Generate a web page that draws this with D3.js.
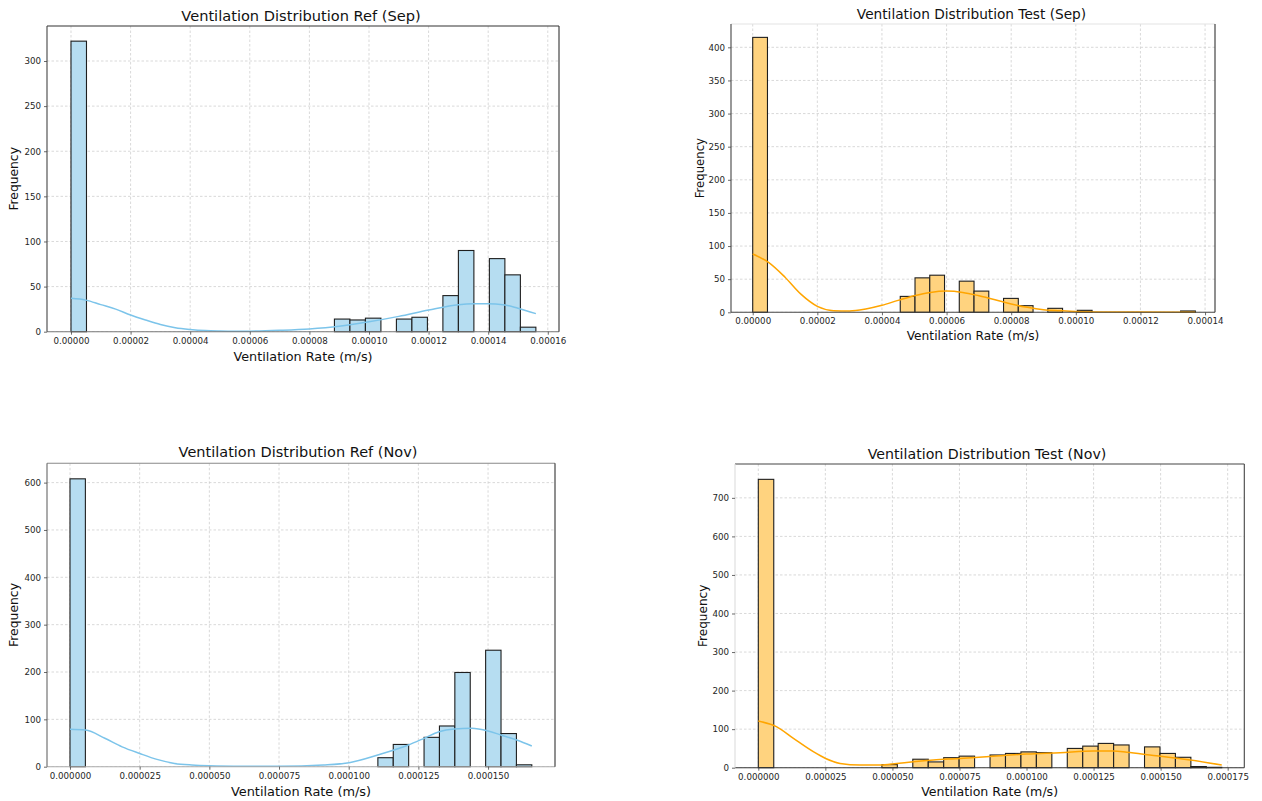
<!DOCTYPE html>
<html>
<head>
<meta charset="utf-8">
<script src="https://cdn.jsdelivr.net/npm/d3@7"></script>
<style>
  body { margin: 0; background: #fff; }
  svg { display: block; }
  text { font-family: "DejaVu Sans", sans-serif; }
</style>
</head>
<body>
<svg id="chart" width="1262" height="801"></svg>
<script>
// histogram counts, 30 equal bins from 0 to the largest value of each series
const binCount = 30;

const refSepMax = 0.000156;
const refSepCounts = [322, 0, 0, 0, 0, 0, 0, 0, 0, 0, 0, 0, 0, 0, 0, 0, 0, 14, 13, 15, 0, 14, 16, 0, 40, 90, 0, 81, 63, 5];
const refSepKde = [[0, 37], [0.000005, 35], [0.00001, 30], [0.000015, 25], [0.00002, 18.5], [0.000025, 13], [0.00003, 8],
  [0.000035, 4.5], [0.00004, 2.5], [0.000045, 1.2], [0.00005, 0.7], [0.000055, 0.5], [0.00006, 0.6], [0.00007, 1.5],
  [0.00008, 3], [0.00009, 6], [0.0001, 11], [0.00011, 17], [0.00012, 24], [0.00013, 30], [0.000135, 31],
  [0.00014, 31], [0.000145, 30], [0.00015, 26], [0.000156, 20]];

const testSepMax = 0.000137;
const testSepCounts = [415, 0, 0, 0, 0, 0, 0, 0, 0, 0, 24, 52, 56, 0, 47, 32, 0, 21, 10, 0, 6, 0, 3, 0, 0, 0, 0, 0, 0, 2];
const testSepKde = [[0, 88], [0.000005, 75], [0.00001, 53], [0.000015, 27], [0.00002, 9], [0.000025, 2.5], [0.00003, 2],
  [0.000035, 5], [0.00004, 10.5], [0.000045, 18], [0.00005, 25], [0.000055, 30], [0.00006, 32], [0.000065, 30],
  [0.00007, 25], [0.000075, 19], [0.00008, 12.5], [0.000085, 7.5], [0.00009, 4], [0.000095, 2.5], [0.0001, 1.3],
  [0.00011, 0.5], [0.00012, 0.3], [0.000137, 0.1]];

const refNovMax = 0.0001657;
const refNovCounts = [608, 0, 0, 0, 0, 0, 0, 0, 0, 0, 0, 0, 0, 0, 0, 0, 0, 0, 0, 0, 19, 47, 0, 62, 86, 199, 0, 246, 70, 4];
const refNovKde = [[0, 79], [0.0000056, 77.5], [0.0000125, 60], [0.0000187, 42], [0.000025, 28], [0.0000312, 15.5],
  [0.0000375, 7], [0.0000437, 3.6], [0.00005, 2], [0.0000625, 1], [0.000075, 0.8], [0.0000909, 3.6], [0.0001002, 8.5],
  [0.0001104, 24.7], [0.0001214, 45.8], [0.000127, 59.9], [0.0001324, 74], [0.0001379, 79.6], [0.0001441, 81],
  [0.00015, 75.4], [0.0001546, 67], [0.0001603, 56.4], [0.0001657, 43.7]];

const testNovMax = 0.0001728;
const testNovCounts = [748, 0, 0, 0, 0, 0, 0, 0, 8, 0, 22, 15, 26, 30, 0, 33, 37, 41, 39, 0, 50, 56, 63, 59, 0, 54, 37, 27, 3, 1];
const testNovKde = [[0, 121], [0.0000069, 106], [0.0000131, 76], [0.0000205, 41.5], [0.0000251, 24], [0.0000305, 11],
  [0.0000379, 7], [0.0000454, 7], [0.0000516, 11], [0.0000578, 15.5], [0.0000653, 20], [0.0000752, 24],
  [0.0000876, 30], [0.0001, 35.5], [0.0001125, 39], [0.0001249, 43], [0.0001324, 43], [0.0001374, 40],
  [0.000146, 33], [0.000161, 20], [0.0001728, 7]];

const sepTicks = [0, 0.00002, 0.00004, 0.00006, 0.00008, 0.0001, 0.00012, 0.00014, 0.00016];
const novTicks = [0, 0.000025, 0.00005, 0.000075, 0.0001, 0.000125, 0.00015, 0.000175];
const refSepYTicks = [0, 50, 100, 150, 200, 250, 300];
const testSepYTicks = [0, 50, 100, 150, 200, 250, 300, 350, 400];
const refNovYTicks = [0, 100, 200, 300, 400, 500, 600];
const testNovYTicks = [0, 100, 200, 300, 400, 500, 600, 700];

const blueFill = "#b6ddf1", blueLine = "#7cc4ea";
const orangeFill = "#ffd37f", orangeLine = "#ffa500";

const panels = [
  {title: "Ventilation Distribution Ref (Sep)", counts: refSepCounts, maxVal: refSepMax, kde: refSepKde,
   xTicks: sepTicks, fmt: ".5f", yTicks: refSepYTicks, fill: blueFill, line: blueLine,
   box: {l: 47, r: 559, t: 26, b: 331.7}, xDom: [-0.00000805, 0.00016376], yMax: 338.8,
   titleSize: 14.6, titleX: 301, titleY: 21, labelSize: 12.8, xLabelY: 361, yLabelX: 18,
   spines: {top: "#333", left: "#444", right: "#333", bottom: "#777"}},
  {title: "Ventilation Distribution Test (Sep)", counts: testSepCounts, maxVal: testSepMax, kde: testSepKde,
   xTicks: sepTicks.slice(0, 8), fmt: ".5f", yTicks: testSepYTicks, fill: orangeFill, line: orangeLine,
   box: {l: 731, r: 1215, t: 24, b: 312.3}, xDom: [-0.00000672, 0.00014308], yMax: 435.2,
   titleSize: 13.7, titleX: 971.5, titleY: 19, labelSize: 12.2, xLabelY: 340, yLabelX: 704,
   spines: {top: "#e4e4e4", left: "#444", right: "#333", bottom: "#444"}},
  {title: "Ventilation Distribution Ref (Nov)", counts: refNovCounts, maxVal: refNovMax, kde: refNovKde,
   xTicks: novTicks.slice(0, 7), fmt: ".6f", yTicks: refNovYTicks, fill: blueFill, line: blueLine,
   box: {l: 47, r: 555, t: 463.3, b: 766.7}, xDom: [-0.00000825, 0.00017402], yMax: 640.8,
   titleSize: 14.5, titleX: 298, titleY: 457, labelSize: 12.9, xLabelY: 796, yLabelX: 18,
   spines: {top: "#888", left: "#666", right: "#333", bottom: "#aaa"}},
  {title: "Ventilation Distribution Test (Nov)", counts: testNovCounts, maxVal: testNovMax, kde: testNovKde,
   xTicks: novTicks, fmt: ".6f", yTicks: testNovYTicks, fill: orangeFill, line: orangeLine,
   box: {l: 735, r: 1244.3, t: 464, b: 767.7}, xDom: [-0.00000869, 0.0001812], yMax: 787.8,
   titleSize: 14.2, titleX: 987, titleY: 459, labelSize: 12.6, xLabelY: 796, yLabelX: 707,
   spines: {top: "#444", left: "#dcdcdc", right: "#444", bottom: "#333"}}
];

const svg = d3.select("#chart");
svg.append("rect").attr("width", 1262).attr("height", 801).attr("fill", "#fff");

panels.forEach((p, pi) => {
  const b = p.box;
  const x = d3.scaleLinear().domain(p.xDom).range([b.l, b.r]);
  const y = d3.scaleLinear().domain([0, p.yMax]).range([b.b, b.t]);
  const g = svg.append("g").attr("class", "panel");

  const clipId = "clip" + pi;
  g.append("clipPath").attr("id", clipId)
    .append("rect").attr("x", b.l).attr("y", b.t).attr("width", b.r - b.l).attr("height", b.b - b.t);

  // dashed grid
  const grid = g.append("g").attr("clip-path", "url(#" + clipId + ")")
    .attr("stroke", "#cfcfcf").attr("stroke-width", 0.8).attr("stroke-dasharray", "2.5,2");
  grid.selectAll("line.vx").data(p.xTicks).enter().append("line")
    .attr("x1", d => x(d)).attr("x2", d => x(d)).attr("y1", b.t).attr("y2", b.b);
  grid.selectAll("line.hy").data(p.yTicks).enter().append("line")
    .attr("x1", b.l).attr("x2", b.r).attr("y1", d => y(d)).attr("y2", d => y(d));

  // histogram bars
  const w = p.maxVal / binCount;
  const bins = p.counts.map((c, i) => ({x0: i * w, x1: (i + 1) * w, c: c})).filter(d => d.c > 0);
  g.append("g").selectAll("rect").data(bins).enter().append("rect")
    .attr("x", d => x(d.x0))
    .attr("width", d => x(d.x1) - x(d.x0))
    .attr("y", d => y(d.c))
    .attr("height", d => y(0) - y(d.c))
    .attr("fill", p.fill)
    .attr("stroke", "#1e1e1e")
    .attr("stroke-width", 1.1);

  // kde curve
  const line = d3.line().x(d => x(d[0])).y(d => y(d[1])).curve(d3.curveMonotoneX);
  g.append("path").datum(p.kde)
    .attr("d", line)
    .attr("fill", "none")
    .attr("stroke", p.line)
    .attr("stroke-width", 1.5);

  // spines
  const sp = g.append("g").attr("stroke-width", 1.1);
  sp.append("line").attr("x1", b.l).attr("x2", b.r).attr("y1", b.t).attr("y2", b.t).attr("stroke", p.spines.top);
  sp.append("line").attr("x1", b.l).attr("x2", b.r).attr("y1", b.b).attr("y2", b.b).attr("stroke", p.spines.bottom);
  sp.append("line").attr("x1", b.l).attr("x2", b.l).attr("y1", b.t).attr("y2", b.b).attr("stroke", p.spines.left);
  sp.append("line").attr("x1", b.r).attr("x2", b.r).attr("y1", b.t).attr("y2", b.b).attr("stroke", p.spines.right);

  // axes
  const xAxis = d3.axisBottom(x).tickValues(p.xTicks).tickFormat(d3.format(p.fmt)).tickSize(3).tickPadding(3);
  const yAxis = d3.axisLeft(y).tickValues(p.yTicks).tickFormat(d3.format("d")).tickSize(3).tickPadding(3);
  const gx = g.append("g").attr("transform", "translate(0," + b.b + ")").call(xAxis);
  const gy = g.append("g").attr("transform", "translate(" + b.l + ",0)").call(yAxis);
  [gx, gy].forEach(ax => {
    ax.select(".domain").remove();
    ax.selectAll(".tick line").attr("stroke", "#444").attr("stroke-width", 0.8);
    ax.selectAll(".tick text").attr("fill", "#262626").style("font-size", "8.7px")
      .style("font-family", "'DejaVu Sans', sans-serif");
  });

  // title and labels
  g.append("text").attr("x", p.titleX).attr("y", p.titleY).attr("text-anchor", "middle")
    .style("font-size", p.titleSize + "px").attr("fill", "#111").text(p.title);
  g.append("text").attr("x", (b.l + b.r) / 2).attr("y", p.xLabelY).attr("text-anchor", "middle")
    .style("font-size", p.labelSize + "px").attr("fill", "#111").text("Ventilation Rate (m/s)");
  g.append("text").attr("transform", "translate(" + p.yLabelX + "," + (b.t + b.b) / 2 + ") rotate(-90)")
    .attr("text-anchor", "middle").style("font-size", (p.labelSize - 0.5) + "px").attr("fill", "#111").text("Frequency");
});
</script>
</body>
</html>
